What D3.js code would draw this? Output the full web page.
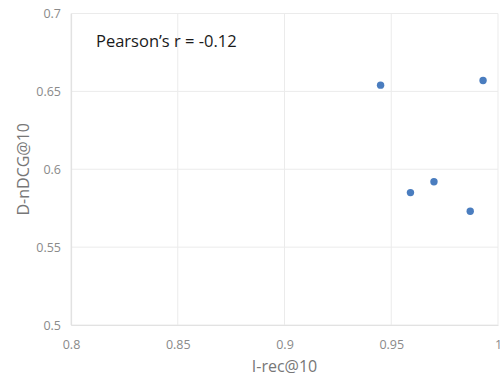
<!DOCTYPE html>
<html>
<head>
<meta charset="utf-8">
<script src="https://cdn.jsdelivr.net/npm/d3@7"></script>
<style>
  html, body { margin: 0; padding: 0; background: #fff; }
  svg { display: block; font-family: "Open Sans", sans-serif; }
</style>
</head>
<body>
<svg id="chart" width="500" height="377"></svg>
<script>
// Per-run scores: I-rec@10 against D-nDCG@10
const irec  = [0.945, 0.993, 0.970, 0.959, 0.987];
const dndcg = [0.654, 0.657, 0.592, 0.585, 0.573];

const xTicks = [0.8, 0.85, 0.9, 0.95, 1];
const yTicks = [0.5, 0.55, 0.6, 0.65, 0.7];
const xLabel = "I-rec@10";
const yLabel = "D-nDCG@10";
const note = "Pearson\u2019s r = -0.12";

const svg = d3.select("#chart");
const margin = { left: 71, right: 2, top: 13.5, bottom: 52 };
const W = 500, H = 377;

const x = d3.scaleLinear().domain([0.8, 1]).range([margin.left, W - margin.right]);
const y = d3.scaleLinear().domain([0.5, 0.7]).range([H - margin.bottom, margin.top]);

const gridColor = "#ebebeb";
const tickColor = "#8a8a8a";

// grid
svg.append("g").selectAll("line").data(xTicks).join("line")
  .attr("x1", d => x(d)).attr("x2", d => x(d))
  .attr("y1", y(0.5)).attr("y2", y(0.7))
  .attr("stroke", gridColor).attr("stroke-width", 1);
svg.append("g").selectAll("line").data(yTicks).join("line")
  .attr("x1", x(0.8)).attr("x2", x(1))
  .attr("y1", d => y(d)).attr("y2", d => y(d))
  .attr("stroke", gridColor).attr("stroke-width", 1);

// axes
const fmt = d => String(+d.toFixed(2));
const xAxis = svg.append("g")
  .attr("transform", `translate(0,${y(0.5)})`)
  .call(d3.axisBottom(x).tickValues(xTicks).tickFormat(fmt).tickSize(0).tickPadding(15));
const yAxis = svg.append("g")
  .attr("transform", `translate(${x(0.8)},0)`)
  .call(d3.axisLeft(y).tickValues(yTicks).tickFormat(fmt).tickSize(0).tickPadding(10));
[xAxis, yAxis].forEach(g => {
  g.select(".domain").attr("stroke", "#e2e2e2").attr("stroke-width", 1.2);
  g.selectAll("text").attr("fill", tickColor)
    .style("font-family", "'Open Sans', sans-serif").style("font-size", "12.5px");
});

// axis titles
svg.append("text")
  .attr("x", (x(0.8) + x(1)) / 2).attr("y", 372)
  .attr("text-anchor", "middle")
  .attr("fill", "#777").style("font-size", "16px")
  .text(xLabel);
svg.append("text")
  .attr("transform", `translate(29,${(y(0.5) + y(0.7)) / 2}) rotate(-90)`)
  .attr("text-anchor", "middle")
  .attr("fill", "#777").style("font-size", "16px")
  .text(yLabel);

// annotation
svg.append("text")
  .attr("x", 96).attr("y", 47)
  .attr("fill", "#1a1a1a").style("font-size", "16.5px")
  .text(note);

// points
svg.append("g").selectAll("circle").data(irec.map((v, i) => [v, dndcg[i]])).join("circle")
  .attr("cx", d => x(d[0])).attr("cy", d => y(d[1]))
  .attr("r", 3.7)
  .attr("fill", "#4a7dbf");
</script>
</body>
</html>
